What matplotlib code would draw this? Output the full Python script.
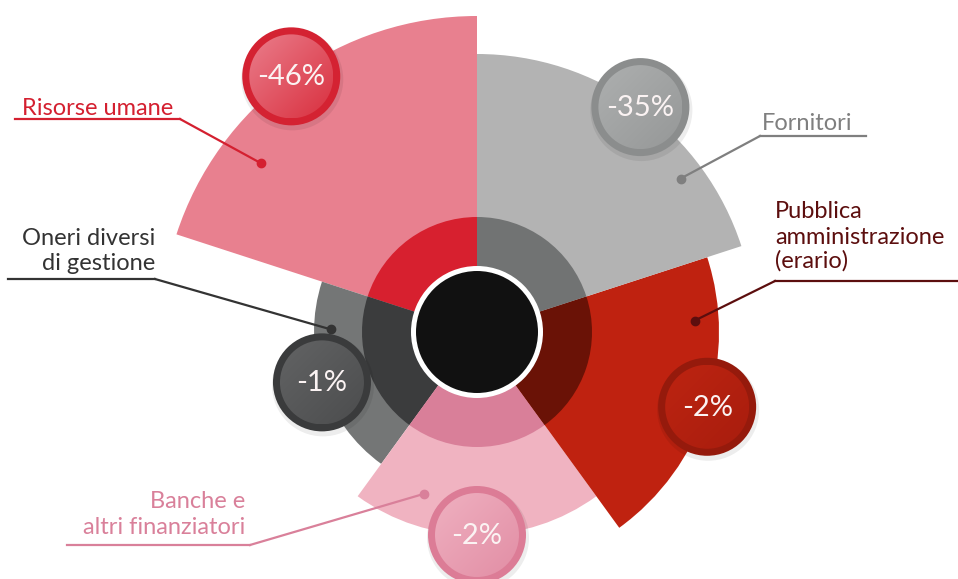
import numpy as np
import matplotlib.pyplot as plt
from matplotlib.patches import Circle
from matplotlib.colors import to_rgb

# settori in senso antiorario partendo da ore 12
categorie = ["Risorse umane", "Oneri diversi di gestione", "Banche e altri finanziatori",
             "Pubblica amministrazione (erario)", "Fornitori"]
variazioni = ["-46%", "-1%", "-2%", "-2%", "-35%"]
raggi = [316, 163, 203, 242, 278]
righe_etichetta = [["Risorse umane"], ["Oneri diversi", "di gestione"],
                   ["Banche e", "altri finanziatori"],
                   ["Pubblica", "amministrazione", "(erario)"], ["Fornitori"]]

col_esterno = ["#e8808f", "#747676", "#f0b3c1", "#bf2210", "#b3b3b3"]
col_interno = ["#d7202f", "#3b3c3d", "#d97f99", "#6a1206", "#717373"]
col_testo = ["#d42030", "#333333", "#d9809a", "#5c0e0e", "#7f7f7f"]
badge_bordo = ["#d42232", "#3a3b3c", "#dc7c96", "#951a0c", "#8b8d8d"]
badge_chiaro = ["#ea7d8b", "#626364", "#efb0c0", "#bd2411", "#adafaf"]
badge_scuro = ["#d9303f", "#4c4d4e", "#e28ea5", "#a81d0e", "#969898"]

# punto di aggancio delle linee guida: (scarto angolare in gradi, raggio)
aggancio = [(16, 274), (-19, 146), (-18, 170), (21, 218), (-17, 255)]
# impaginazione etichette: x testo, allineamento, linee di base, sottolineatura (x0, x1, y), gomito
layout = [
    (22, "left", [115], (15, 180, 119), (180, 119)),
    (155, "right", [245, 270], (8, 155, 279), (155, 279)),
    (245, "right", [508, 534], (67, 250, 545), (250, 545)),
    (775, "left", [218, 244, 268], (775, 958, 281), (775, 281)),
    (762, "left", [130], (760, 866, 136), (760, 136)),
]

W, H = 958, 579
CX, CY = 477, 332
RMAX = 420
R_INT = 115
R_BADGE, R_FACCIA = 49, 42
FONT = "Lato"

fig = plt.figure(figsize=(W / 100, H / 100), dpi=100)
ax = fig.add_axes([(CX - RMAX) / W, (H - CY - RMAX) / H, 2 * RMAX / W, 2 * RMAX / H],
                  projection="polar")
ax.set_theta_offset(np.pi / 2)
ax.set_ylim(0, RMAX)
ax.axis("off")

n = len(categorie)
larg = 2 * np.pi / n
theta = np.arange(n) * larg + larg / 2

ax.bar(theta, raggi, width=larg, color=col_esterno, linewidth=0)
ax.bar(theta, [R_INT] * n, width=larg, color=col_interno, linewidth=0)
ax.bar(0, 66, width=2 * np.pi, color="white", linewidth=0)
ax.bar(0, 61, width=2 * np.pi, color="#111111", linewidth=0)

# livello sovrapposto in pixel per bollini, etichette e linee guida
ov = fig.add_axes([0, 0, 1, 1], facecolor="none")
ov.set_xlim(0, W)
ov.set_ylim(H, 0)
ov.set_autoscale_on(False)
ov.axis("off")

def in_pixel(th, r):
    return ov.transData.inverted().transform(ax.transData.transform((th, r)))

g = np.linspace(0, 1, 80)
GX, GY = np.meshgrid(g, g)
f = np.clip((GX + GY) / 2, 0, 1)[..., None]

for i in range(n):
    bx, by = in_pixel(theta[i], raggi[i])
    ov.add_patch(Circle((bx + 1, by + 3), R_BADGE + 2, color="black", alpha=0.07, lw=0,
                        zorder=1))
    ov.add_patch(Circle((bx, by), R_BADGE, color=badge_bordo[i], lw=0, zorder=1))
    faccia = Circle((bx, by), R_FACCIA, facecolor="none", lw=0, zorder=1)
    ov.add_patch(faccia)
    img = np.array(to_rgb(badge_chiaro[i])) * (1 - f) + np.array(to_rgb(badge_scuro[i])) * f
    im = ov.imshow(img, extent=(bx - R_FACCIA, bx + R_FACCIA, by + R_FACCIA, by - R_FACCIA),
                   origin="upper", interpolation="bilinear", aspect="auto", zorder=2)
    im.set_clip_path(faccia)
    ov.text(bx, by + 1, variazioni[i], color="#fbf3f3", fontsize=21, family=FONT,
            ha="center", va="center", zorder=3)

for i in range(n):
    dth, rr = aggancio[i]
    th = theta[i] + np.deg2rad(dth)
    px, py = in_pixel(th, rr)
    x, ha, basi, (x0, x1, yl), (ex, ey) = layout[i]
    for riga, yb in zip(righe_etichetta[i], basi):
        ov.text(x, yb, riga, color=col_testo[i], fontsize=17, family=FONT, ha=ha,
                va="baseline")
    ov.plot([x0, x1], [yl, yl], color=col_testo[i], lw=1.6, zorder=4)
    ov.plot([ex, px], [ey, py], color=col_testo[i], lw=1.6, zorder=4)
    ov.plot(px, py, "o", color=col_testo[i], markersize=6, zorder=4)

ov.set_xlim(0, W)
ov.set_ylim(H, 0)
fig.savefig("out.png", dpi=100)
